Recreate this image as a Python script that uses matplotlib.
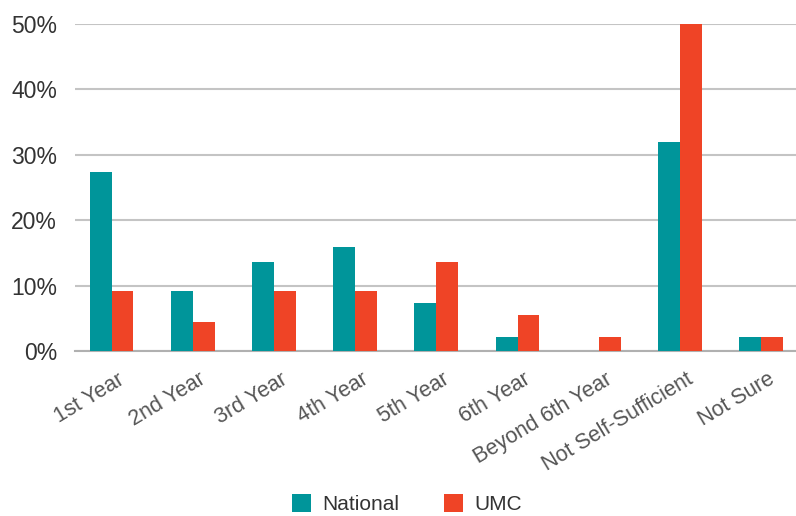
import matplotlib
matplotlib.use("Agg")
import matplotlib.pyplot as plt
import matplotlib.transforms as mtransforms
import numpy as np

categories = ["1st Year", "2nd Year", "3rd Year", "4th Year", "5th Year",
              "6th Year", "Beyond 6th Year", "Not Self-Sufficient", "Not Sure"]
national = [27.3, 9.1, 13.6, 15.9, 7.3, 2.2, 0.0, 32.0, 2.2]
umc = [9.1, 4.5, 9.1, 9.1, 13.6, 5.5, 2.2, 50.0, 2.2]
yticks = [0, 10, 20, 30, 40, 50]

teal = "#00959a"
red = "#ef4426"

plt.rcParams['font.family'] = ['Liberation Sans', 'DejaVu Sans']

fig = plt.figure(figsize=(7.96, 5.16), dpi=100)
ax = fig.add_axes([75 / 796, 165 / 516, 721 / 796, 327 / 516])

x = np.arange(len(categories))
w = 0.27
ax.bar(x - w / 2, national, width=w, color=teal, label="National", zorder=3)
ax.bar(x + w / 2, umc, width=w, color=red, label="UMC", zorder=3)

ax.set_xlim(-0.45, 8.43)
ax.set_ylim(0, 50)
ax.set_yticks(yticks)
ax.set_yticklabels([f"{v}%" for v in yticks])
ax.yaxis.grid(True, color="#c4c4c4", linewidth=1.5, zorder=0)
ax.set_axisbelow(True)
for s in ["top", "right", "left"]:
    ax.spines[s].set_visible(False)
ax.spines["bottom"].set_color("#b0b0b0")
ax.spines["bottom"].set_linewidth(1.5)
ax.tick_params(axis="y", length=0, labelsize=16.5, labelcolor="#333333", pad=13)
ax.tick_params(axis="x", length=0, labelsize=15.5, labelcolor="#555555", pad=0)

ax.set_xticks(x)
ax.set_xticklabels(categories, rotation=31, ha="right", va="top",
                   rotation_mode="anchor")
offset = mtransforms.ScaledTranslation(6 / 100, -18 / 100, fig.dpi_scale_trans)
for lab in ax.get_xticklabels():
    lab.set_transform(lab.get_transform() + offset)

fig.legend(loc="center", bbox_to_anchor=(0.511, 0.023), ncol=2, frameon=False,
           fontsize=15, handlelength=0.9, handleheight=0.9, columnspacing=2.15,
           handletextpad=0.55, labelcolor="#333333", borderpad=0)

fig.savefig("out.png", dpi=100)
